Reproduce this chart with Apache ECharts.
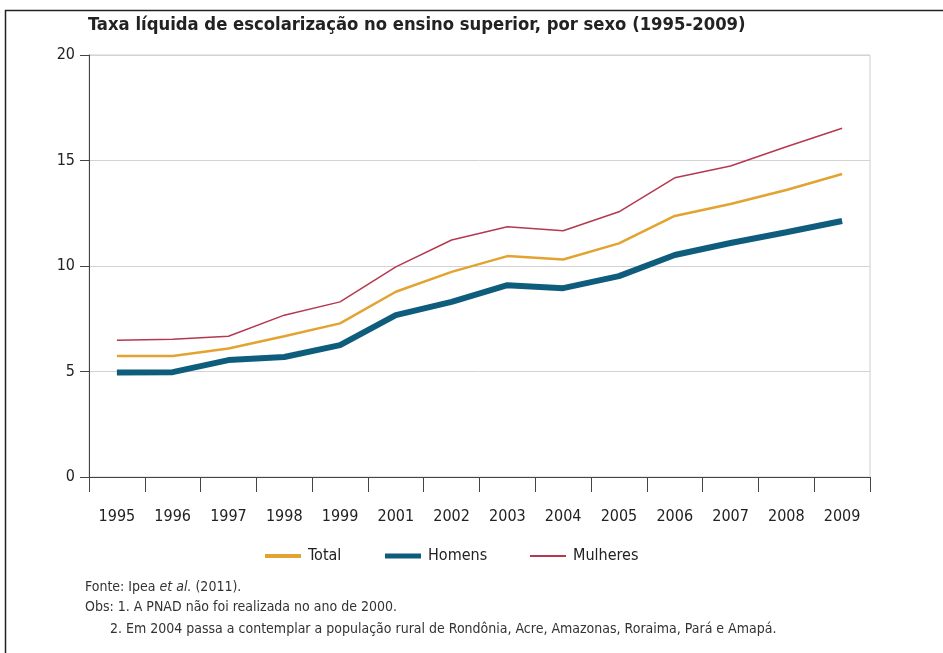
<!DOCTYPE html>
<html>
<head>
<meta charset="utf-8">
<script src="https://cdn.jsdelivr.net/npm/echarts@6/dist/echarts.min.js"></script>
<style>
  html, body { margin: 0; padding: 0; background: #fff; }
  #chart { width: 943px; height: 653px; }
</style>
</head>
<body>
<div id="chart"></div>
<script>
// Taxa líquida de escolarização no ensino superior (%), por sexo
const anos = ['1995', '1996', '1997', '1998', '1999', '2001', '2002', '2003', '2004', '2005', '2006', '2007', '2008', '2009'];
const total = [5.73, 5.73, 6.09, 6.67, 7.28, 8.78, 9.72, 10.47, 10.31, 11.07, 12.37, 12.94, 13.60, 14.36];
const homens = [4.95, 4.97, 5.54, 5.69, 6.25, 7.67, 8.30, 9.09, 8.95, 9.52, 10.52, 11.09, 11.60, 12.13];
const mulheres = [6.48, 6.53, 6.67, 7.67, 8.30, 9.96, 11.23, 11.86, 11.67, 12.57, 14.18, 14.74, 15.65, 16.53];
const yTicks = [0, 5, 10, 15, 20];

const FONT = "'Liberation Sans Narrow', 'DejaVu Sans Condensed', 'Open Sans', sans-serif";
const COR_TOTAL = '#E3A330';
const COR_HOMENS = '#0F5D7C';
const COR_MULHERES = '#B5394E';

const chart = echarts.init(document.getElementById('chart'), null, { renderer: 'canvas' });

function legenda(nome, cor, largura, x) {
  return {
    left: x, top: 543,
    itemWidth: 36, itemHeight: 10, itemGap: 0,
    icon: 'path://M0,' + (5 - largura / 2) + 'h36v' + largura + 'h-36zM0,0h0.01v0.01h-0.01zM35.99,9.99h0.01v0.01h-0.01z',
    data: [{ name: nome, itemStyle: { color: cor } }],
    textStyle: { fontFamily: FONT, fontSize: 16, color: '#222', padding: [0, 0, 0, 2] },
    selectedMode: false
  };
}

chart.setOption({
  animation: false,
  backgroundColor: '#fff',
  textStyle: { fontFamily: FONT },
  title: {
    text: 'Taxa líquida de escolarização no ensino superior, por sexo (1995-2009)',
    left: 83, top: 11,
    textStyle: { fontFamily: FONT, fontSize: 18.3, fontWeight: 'bold', color: '#222' }
  },
  legend: [
    legenda('Total', COR_TOTAL, 4, 260),
    legenda('Homens', COR_HOMENS, 5, 380),
    legenda('Mulheres', COR_MULHERES, 2, 525)
  ],
  grid: {
    left: 89, right: 73, top: 55, bottom: 176,
    show: true, borderColor: '#cfcfcf', borderWidth: 1, backgroundColor: 'transparent'
  },
  xAxis: {
    type: 'category',
    data: anos,
    boundaryGap: true,
    axisLine: { show: true, lineStyle: { color: '#444', width: 1 } },
    axisTick: { show: true, length: 15, lineStyle: { color: '#444', width: 1 } },
    axisLabel: { margin: 32, fontFamily: FONT, fontSize: 16, color: '#222' },
    splitLine: { show: false }
  },
  yAxis: {
    type: 'value',
    min: yTicks[0], max: yTicks[yTicks.length - 1], interval: yTicks[1] - yTicks[0],
    axisLine: { show: true, lineStyle: { color: '#444', width: 1 } },
    axisTick: { show: true, length: 9, lineStyle: { color: '#444', width: 1 } },
    axisLabel: { margin: 14, fontFamily: FONT, fontSize: 16, color: '#222' },
    splitLine: { show: true, lineStyle: { color: '#d3d3d3', width: 1 } }
  },
  series: [
    {
      name: 'Total', type: 'line', data: total,
      symbol: 'none', z: 3,
      lineStyle: { color: COR_TOTAL, width: 2.5 },
      itemStyle: { color: COR_TOTAL }
    },
    {
      name: 'Homens', type: 'line', data: homens,
      symbol: 'none', z: 2,
      lineStyle: { color: COR_HOMENS, width: 6 },
      itemStyle: { color: COR_HOMENS }
    },
    {
      name: 'Mulheres', type: 'line', data: mulheres,
      symbol: 'none', z: 4,
      lineStyle: { color: COR_MULHERES, width: 1.5 },
      itemStyle: { color: COR_MULHERES }
    }
  ],
  graphic: [
    {
      type: 'rect', silent: true,
      shape: { x: 5.5, y: 10.5, width: 1000, height: 700 },
      style: { fill: 'none', stroke: '#222', lineWidth: 1.5 }
    },
    {
      type: 'text', left: 85, top: 580, silent: true,
      style: {
        text: '{n|Fonte: Ipea }{i|et al.}{n| (2011).}',
        rich: {
          n: { fontFamily: FONT, fontSize: 14, fill: '#333' },
          i: { fontFamily: FONT, fontSize: 14, fontStyle: 'italic', fill: '#333' }
        }
      }
    },
    {
      type: 'text', left: 85, top: 600, silent: true,
      style: { text: 'Obs: 1. A PNAD não foi realizada no ano de 2000.', fontFamily: FONT, fontSize: 14, fill: '#333' }
    },
    {
      type: 'text', left: 110, top: 622, silent: true,
      style: { text: '2. Em 2004 passa a contemplar a população rural de Rondônia, Acre, Amazonas, Roraima, Pará e Amapá.', fontFamily: FONT, fontSize: 14, fill: '#333' }
    }
  ]
});
</script>
</body>
</html>
